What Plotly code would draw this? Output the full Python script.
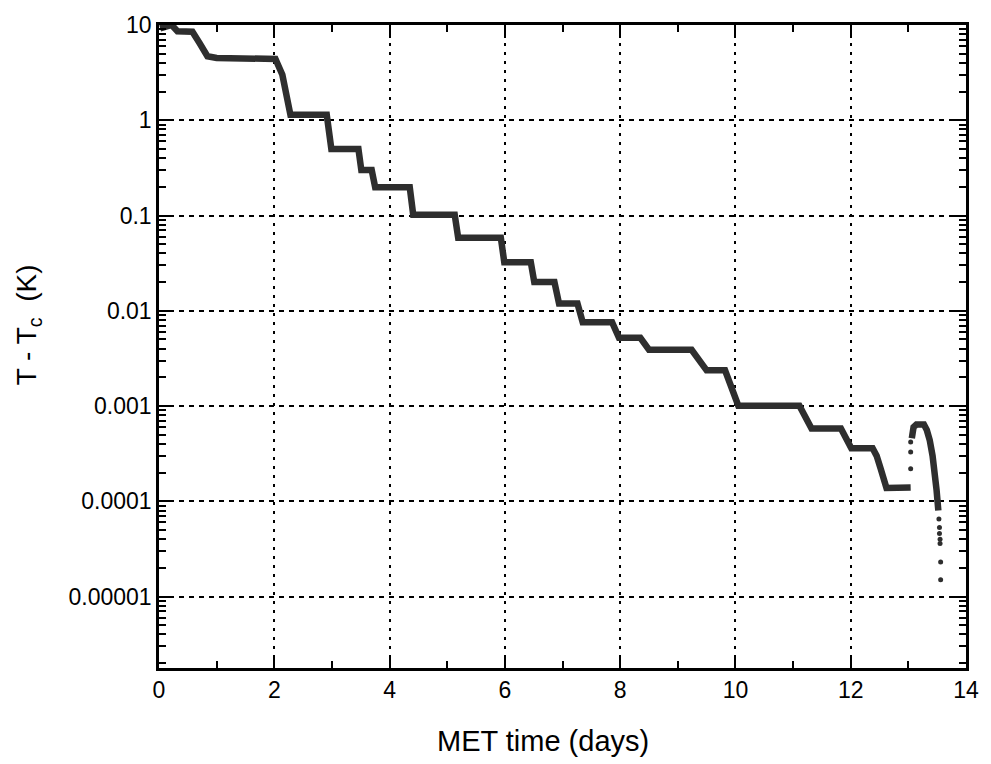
import plotly.graph_objects as go

# Main stepped record (MET days, T - Tc in K)
days_a = [0.02, 0.10, 0.22, 0.32, 0.58, 0.70, 0.84, 1.00, 2.02, 2.14, 2.22, 2.28,
          2.91, 2.99, 3.46, 3.51, 3.69, 3.75, 4.35, 4.41, 5.13, 5.19, 5.93, 5.99,
          6.45, 6.51, 6.86, 6.94, 7.26, 7.35, 7.86, 7.98, 8.35, 8.50, 9.24, 9.50,
          9.82, 10.05, 11.11, 11.32, 11.83, 12.01, 12.38, 12.45, 12.52, 12.58, 12.62, 13.04]
vals_a = [9.2, 9.6, 10.0, 8.6, 8.5, 6.5, 4.7, 4.5, 4.4, 3.0, 1.87, 1.14,
          1.14, 0.50, 0.50, 0.30, 0.30, 0.198, 0.198, 0.102, 0.102, 0.0586, 0.0586, 0.0324,
          0.0324, 0.0200, 0.0200, 0.0119, 0.0119, 0.0076, 0.0076, 0.0052, 0.0052, 0.0039, 0.0039, 0.00237,
          0.00237, 0.00101, 0.00101, 0.00058, 0.00058, 0.00036, 0.00036, 0.00030, 0.00022, 0.00015, 0.000138, 0.000140]

# Final warm-up bump
days_b = [13.06, 13.09, 13.14, 13.27, 13.32, 13.37, 13.42, 13.46, 13.49, 13.52]
vals_b = [4.6e-4, 6.0e-4, 6.4e-4, 6.4e-4, 5.6e-4, 4.4e-4, 3.0e-4, 2.0e-4, 1.3e-4, 8e-5]

# Sparse isolated points
dots_x = [13.04, 13.04, 13.04, 13.53, 13.54, 13.54, 13.55, 13.55, 13.56, 13.56]
dots_y = [2.2e-4, 3.3e-4, 4.2e-4, 6.5e-5, 5.3e-5, 4.6e-5, 4.0e-5, 3.6e-5, 2.3e-5, 1.5e-5]

x_ticks = [0, 2, 4, 6, 8, 10, 12, 14]
y_ticks = [1e-5, 1e-4, 1e-3, 1e-2, 1e-1, 1, 10]
y_ticktext = ["0.00001", "0.0001", "0.001", "0.01", "0.1", "1", "10"]

curve_color = "#2e2e2e"
font_family = "Liberation Sans, Arial, Helvetica, sans-serif"

fig = go.Figure()
fig.add_trace(go.Scatter(x=days_a, y=vals_a, mode="lines",
                         line=dict(color=curve_color, width=6.5), showlegend=False))
fig.add_trace(go.Scatter(x=days_b, y=vals_b, mode="lines",
                         line=dict(color=curve_color, width=6.5), showlegend=False))
fig.add_trace(go.Scatter(x=dots_x, y=dots_y, mode="markers",
                         marker=dict(color=curve_color, size=5), showlegend=False))

minor_y = [m * 10 ** e for e in range(-6, 1) for m in range(2, 10)]
minor_y = [v for v in minor_y if 10 ** -5.75 <= v <= 10]

fig.update_xaxes(
    range=[0, 14], tickvals=x_ticks, ticks="inside", ticklen=13, tickwidth=2,
    tickcolor="black", showline=True, linecolor="black", linewidth=2.5, mirror="ticks",
    showgrid=True, gridcolor="black", gridwidth=1.5, griddash="3px,6px",
    zeroline=False,
    minor=dict(ticks="inside", ticklen=7, tickwidth=1.5, dtick=1, tick0=0,
               tickcolor="black", showgrid=False),
    tickfont=dict(size=23, color="black", family=font_family),
)
fig.update_yaxes(
    type="log", range=[-5.75, 1.0], tickvals=y_ticks, ticktext=y_ticktext,
    ticks="inside", ticklen=13, tickwidth=2, tickcolor="black",
    showline=True, linecolor="black", linewidth=2.5, mirror="ticks",
    showgrid=True, gridcolor="black", gridwidth=1.5, griddash="5px,5px",
    zeroline=False,
    minor=dict(ticks="inside", ticklen=7, tickwidth=1.5, tickvals=minor_y,
               tickcolor="black", showgrid=False),
    tickfont=dict(size=23, color="black", family=font_family),
)

fig.add_annotation(text="MET time (days)", xref="paper", yref="paper",
                   x=0.476, y=-0.1135, xanchor="center", yanchor="middle",
                   showarrow=False, font=dict(size=29, color="black", family=font_family))
fig.add_annotation(text="T - T<sub>c</sub>\u00a0 (K)", xref="paper", yref="paper",
                   x=-0.1615, y=0.534, xanchor="center", yanchor="middle", textangle=-90,
                   showarrow=False, font=dict(size=28, color="black", family=font_family))

fig.update_layout(
    width=991, height=764,
    margin=dict(l=159, r=21, t=16, b=96),
    paper_bgcolor="white", plot_bgcolor="white",
    font=dict(family=font_family, color="black"),
)

fig.write_html("out.html")
